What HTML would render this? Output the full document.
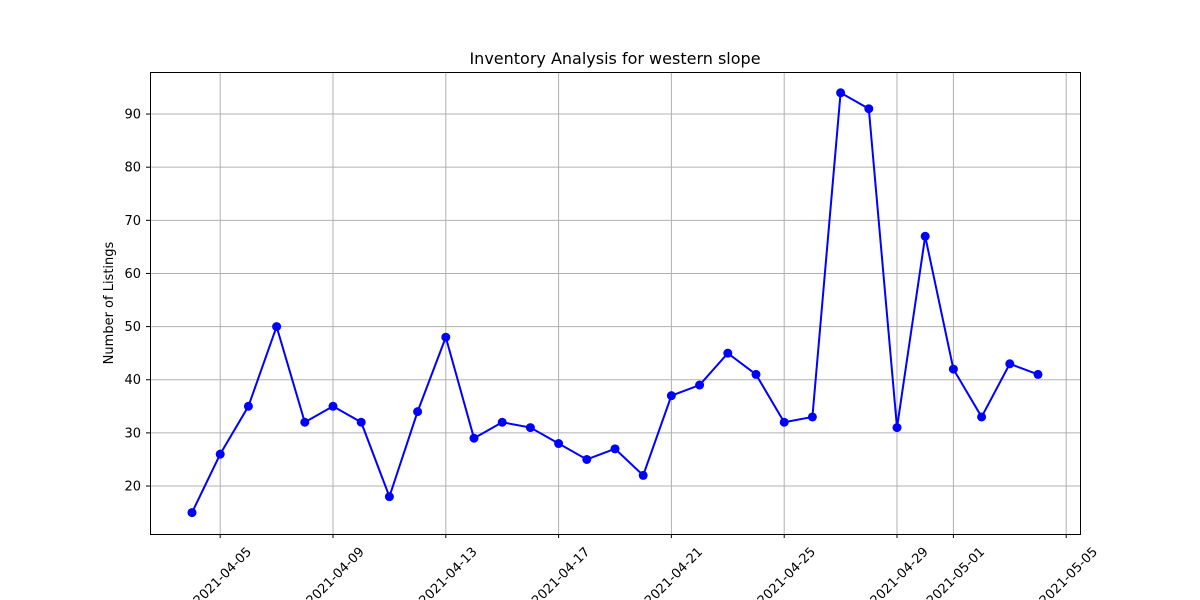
<!DOCTYPE html>
<html><head><meta charset="utf-8"><style>body{margin:0;background:#fff}svg{display:block;font-family:"DejaVu Sans","Liberation Sans",sans-serif}</style></head>
<body>
<svg id="chart" width="1200" height="600">
<rect width="1200" height="600" fill="#fff"/>
<text x="615" y="64" text-anchor="middle" font-size="16">Inventory Analysis for western slope</text>
<text transform="translate(113,303) rotate(-90)" text-anchor="middle" font-size="13">Number of Listings</text>
<g id="grid"></g><g id="axes"></g><g id="series"></g>
<rect x="150.5" y="72.5" width="930" height="462" fill="none" stroke="#000"/>
</svg>
<script>
const dates=["04-04","04-05","04-06","04-07","04-08","04-09","04-10","04-11","04-12","04-13","04-14","04-15","04-16","04-17","04-18","04-19","04-20","04-21","04-22","04-23","04-24","04-25","04-26","04-27","04-28","04-29","04-30","05-01","05-02","05-03","05-04"];
const listings=[15,26,35,50,32,35,32,18,34,48,29,32,31,28,25,27,22,37,39,45,41,32,33,94,91,31,67,42,33,43,41];
const xTickLabels=["2021-04-05","2021-04-09","2021-04-13","2021-04-17","2021-04-21","2021-04-25","2021-04-29","2021-05-01","2021-05-05"];
const xTickDays=[1,5,9,13,17,21,25,27,31];
const yTicks=[20,30,40,50,60,70,80,90];
const NS="http://www.w3.org/2000/svg";
const x=d=>192+d*28.2;
const y=v=>592.3-5.314*v;
function mk(tag,attrs,parent){const e=document.createElementNS(NS,tag);for(const k in attrs)e.setAttribute(k,attrs[k]);parent.appendChild(e);return e;}
const grid=document.getElementById('grid'),axes=document.getElementById('axes'),series=document.getElementById('series');
yTicks.forEach(v=>{
 const g=mk('line',{x1:150,x2:1080,y1:y(v),y2:y(v),stroke:'#b0b0b0','stroke-width':1},grid);
 
 
 mk('line',{x1:146,x2:150,y1:y(v),y2:y(v),stroke:'#000'},axes);
 const t=mk('text',{x:141,y:y(v)+4.5,'text-anchor':'end','font-size':13},axes);
 t.textContent=v;
 
 
});
xTickDays.forEach((d,i)=>{
 const g=mk('line',{x1:x(d),x2:x(d),y1:72,y2:534,stroke:'#b0b0b0','stroke-width':1},grid);
 
 
 mk('line',{x1:x(d),x2:x(d),y1:534,y2:538,stroke:'#000'},axes);
 const cx=x(d)+2, cy=576;
 const t=mk('text',{x:cx,y:cy+4.5,'text-anchor':'middle','font-size':13,transform:`rotate(-45 ${cx} ${cy})`},axes);
 t.textContent=xTickLabels[i];
 
 
});
const pl=mk('polyline',{points:listings.map((v,i)=>x(i)+','+y(v)).join(' '),fill:'none',stroke:'#0000ff','stroke-width':2},series);


listings.forEach((v,i)=>{
 const c=mk('circle',{cx:x(i),cy:y(v),r:4.5,fill:'#0000ff'},series);
 
 
});
</script>
</body></html>
